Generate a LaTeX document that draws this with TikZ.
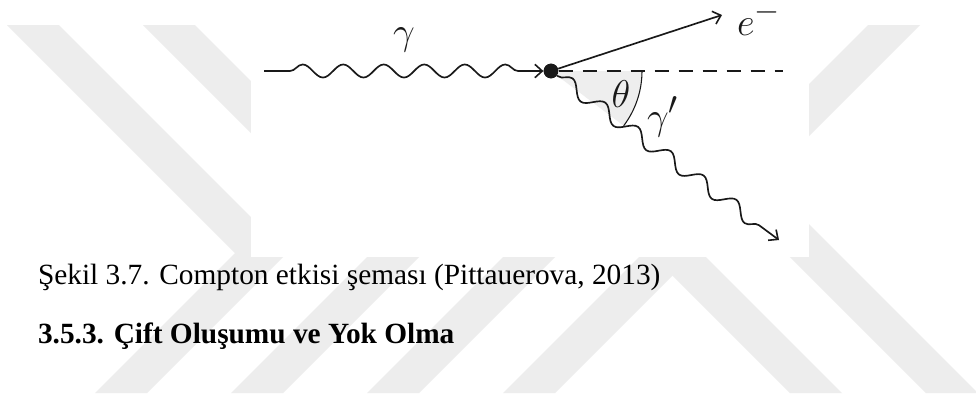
\documentclass[tikz,border=0pt]{standalone}
\usepackage{fontspec}
\setmainfont{Liberation Serif}
\usetikzlibrary{decorations.pathmorphing,arrows.meta}
\definecolor{wm}{RGB}{237,237,237}
\definecolor{ink}{RGB}{25,25,25}
\definecolor{sectorgray}{RGB}{238,238,238}
\begin{document}
\begin{tikzpicture}[x=0.75pt,y=-0.75pt,
  band/.style={fill=wm,draw=none},
  lbl/.style={inner sep=0pt,outer sep=0pt,text=ink},
  mathlbl/.style={lbl,font=\fontsize{24.88}{28}\selectfont,scale=1.165,transform shape},
  txt/.style={lbl,text=black,font=\fontsize{22}{26}\selectfont},
  line/.style={draw=ink,line width=1.25pt},
  tip/.style={-{Straight Barb[length=5.5pt,width=10pt,line width=1.2pt]}},
  photonin/.style={line,decorate,decoration={snake,amplitude=4.9pt,segment length=30.4pt,pre length=19.5pt,post length=14pt}},
  photonout/.style={line,decorate,decoration={snake,amplitude=5.2pt,segment length=30.6pt,pre length=1pt,post length=8pt}},
  dashline/.style={line,dash pattern=on 10.5pt off 7.5pt}
]
\useasboundingbox (0,0) rectangle (976,401);
\fill[white] (0,0) rectangle (976,401);
% watermark: left chevrons
\fill[band] (7,25) -- (59,25) -- (287,253) -- (147,393) -- (95,393) -- (235,253) -- cycle;
\fill[band] (143,25) -- (195,25) -- (423,253) -- (283,393) -- (231,393) -- (371,253) -- cycle;
\fill[band] (279,25) -- (331,25) -- (559,253) -- (419,393) -- (367,393) -- (507,253) -- cycle;
\fill[band] (415,25) -- (467,25) -- (695,253) -- (555,393) -- (503,393) -- (643,253) -- cycle;
% watermark: right chevrons
\fill[band] (732,25) -- (784,25) -- (629,180) -- (842,393) -- (790,393) -- (577,180) -- cycle;
\fill[band] (868,25) -- (920,25) -- (765,180) -- (978,393) -- (926,393) -- (713,180) -- cycle;
% figure box
\fill[white] (251,0) rectangle (809,257);
% diagram
\node[circle,fill=ink,inner sep=0pt,minimum size=11pt] (V) at (551,71) {};
\coordinate (gin) at (264,71);
\coordinate (etip) at (722,15);
\coordinate (dend) at (783,71);
\coordinate (gtip) at (779,240);
\fill[sectorgray] (V.center) -- ++(0:91) arc[start angle=0,end angle=37,radius=91] -- cycle;
\path (V.center) ++(0:91) coordinate (a0);
\draw[draw=ink,line width=0.8pt] (a0) arc[start angle=0,end angle=37,radius=91];
\draw[photonin,tip] (gin) -- (V.west);
\draw[line,tip] (V) -- (etip);
\draw[dashline] (V) -- (dend);
\draw[photonout,tip] (V) -- (gtip);
\node[circle,fill=ink,inner sep=0pt,minimum size=11pt] at (V.center) {};
% labels
\node[mathlbl,anchor=base] (lg) at (404,44) {$\gamma$};
\node[mathlbl] (lt) at (621,94) {$\theta$};
\node[mathlbl,anchor=base west] (lgp) at (647,129) {$\gamma'$};
\node[mathlbl,anchor=base west] (le) at (737,35) {$e^-$};
% text
\node[txt,anchor=base west] (cap) at (38,284) {Şekil 3.7. Compton etkisi şeması (Pittauerova, 2013)};
\node[txt,anchor=base west,font=\fontsize{22}{26}\selectfont\bfseries] (hd) at (38,343) {3.5.3. Çift Oluşumu ve Yok Olma};
\end{tikzpicture}
\end{document}
